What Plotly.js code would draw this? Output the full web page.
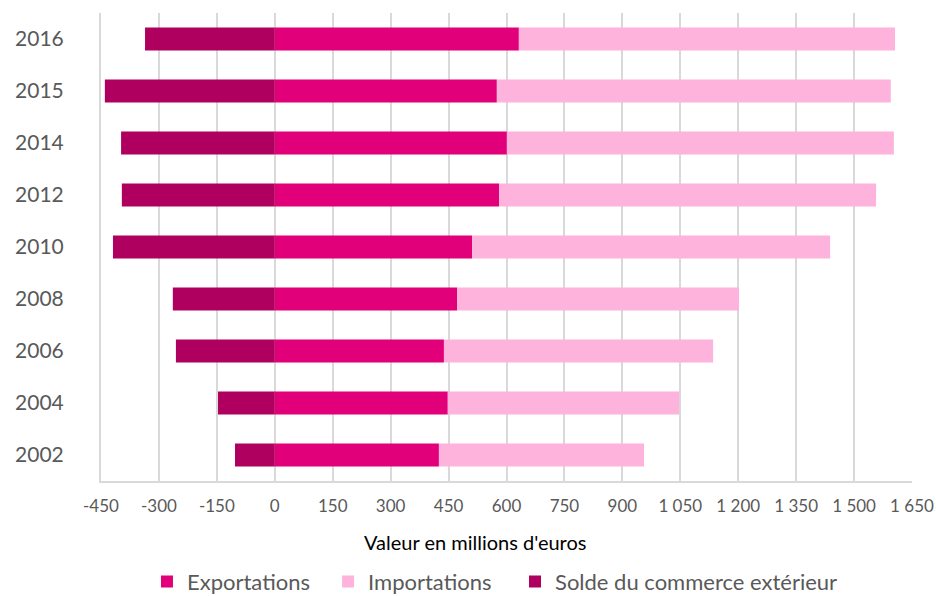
<!DOCTYPE html>
<html>
<head>
<meta charset="utf-8">
<script src="https://cdn.plot.ly/plotly-3.0.1.min.js"></script>
<style>
html,body{margin:0;padding:0;background:#fff;}
#chart{width:936px;height:596px;}
</style>
</head>
<body>
<div id="chart"></div>
<script>
var years = ["2002","2004","2006","2008","2010","2012","2014","2015","2016"];
var exportations = [425, 448, 438, 472, 511, 581, 601, 575, 632];
var importations = [531, 599, 697, 730, 927, 976, 1002, 1020, 974];
var solde = [-103, -147, -256, -264, -419, -396, -398, -440, -336];
var xTickVals = [-450,-300,-150,0,150,300,450,600,750,900,1050,1200,1350,1500,1650];
var xTickText = ["-450","-300","-150","0","150","300","450","600","750","900","1 050","1 200","1 350","1 500","1 650"];

var fontFam = "Lato, 'Open Sans', sans-serif";

var traces = [
  {type:'bar', orientation:'h', name:'Exportations', y:years, x:exportations, legend:'legend',
   marker:{color:'#E2007A', line:{width:0}}, hoverinfo:'skip'},
  {type:'bar', orientation:'h', name:'Importations', y:years, x:importations, legend:'legend2',
   marker:{color:'#FDB3DC', line:{width:0}}, hoverinfo:'skip'},
  {type:'bar', orientation:'h', name:'Solde du commerce extérieur', y:years, x:solde, legend:'legend3',
   marker:{color:'#AF005F', line:{width:0}}, hoverinfo:'skip'}
];

function leg(xp){
  return {orientation:'h', x:xp, xanchor:'left', xref:'paper',
          yref:'container', y:0.024, yanchor:'middle',
          font:{size:22, color:'#595959'}, itemwidth:30, bgcolor:'rgba(0,0,0,0)'};
}

var layout = {
  width:936, height:596,
  margin:{l:101, r:24, t:13, b:115, autoexpand:false},
  paper_bgcolor:'#fff', plot_bgcolor:'#fff',
  barmode:'relative',
  bargap:0.56,
  font:{family:fontFam, color:'#595959'},
  showlegend:true,
  legend:leg(0.0567),
  legend2:leg(0.280),
  legend3:leg(0.5105),
  xaxis:{range:[-450,1650], tickvals:xTickVals, ticktext:xTickText,
         showgrid:true, gridcolor:'#D9D9D9', gridwidth:2,
         zeroline:true, zerolinecolor:'#D9D9D9', zerolinewidth:2,
         showline:true, linecolor:'#D9D9D9', linewidth:2, ticklabelstandoff:9,
         ticks:'', tickfont:{size:17, color:'#595959'}, fixedrange:true, automargin:false},
  yaxis:{type:'category', categoryorder:'array', categoryarray:years, range:[-0.5,8.5],
         showgrid:false, zeroline:false, showline:true, linecolor:'#D9D9D9', linewidth:2,
         ticks:'', ticklabelstandoff:31, tickfont:{size:21, color:'#595959'}, fixedrange:true, automargin:false},
  annotations:[{text:"Valeur en millions d'euros", xref:'paper', yref:'paper',
                x:0.461, y:-0.131, xanchor:'center', yanchor:'middle', showarrow:false,
                font:{size:20, color:'#000000', family:fontFam}}]
};

Plotly.newPlot('chart', traces, layout, {displayModeBar:false, staticPlot:true});
</script>
</body>
</html>
